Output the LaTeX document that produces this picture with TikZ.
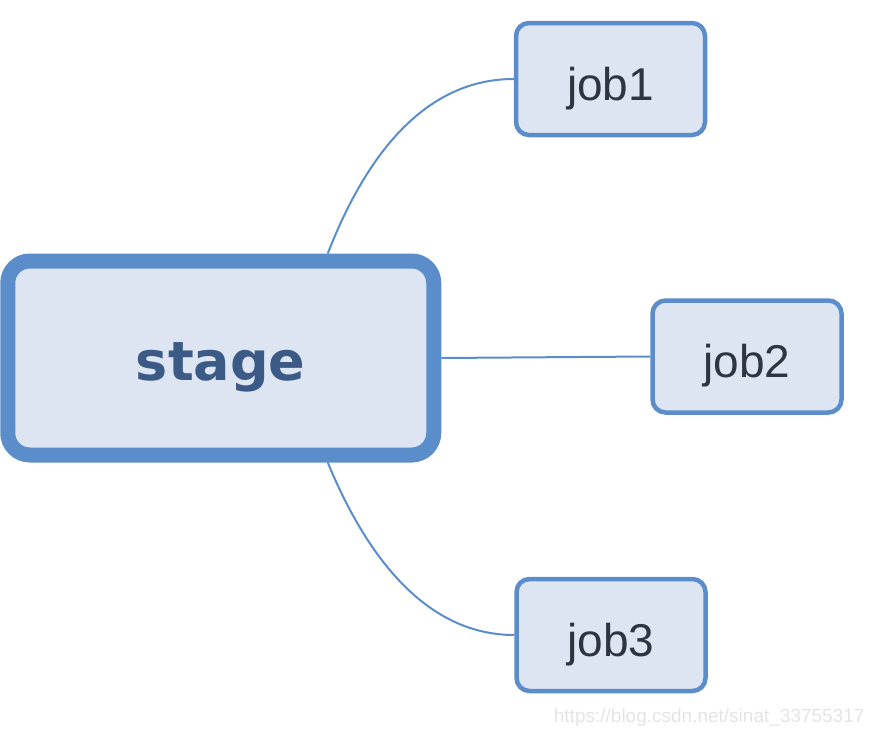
\documentclass[tikz,border=0pt]{standalone}
\usepackage{fontspec}
\setmainfont{Liberation Sans}
\newfontfamily\stagefont{DejaVu Sans}
\definecolor{bord}{HTML}{5B8DCB}
\definecolor{boxfill}{HTML}{DCE5F1}
\definecolor{stagetxt}{HTML}{3B5A86}
\definecolor{jobtxt}{HTML}{2E3540}
\definecolor{wm}{HTML}{E4E4E4}
\begin{document}
\begin{tikzpicture}[x=1pt,y=-1pt,
  stagebox/.style={draw=bord,fill=boxfill,line width=15pt,rounded corners=22pt,inner sep=0pt,
    minimum width=426pt,minimum height=194pt,text=stagetxt,text height=44pt,text depth=0pt,
    font=\stagefont\fontsize{54}{56}\selectfont\bfseries},
  jobbox/.style={draw=bord,fill=boxfill,line width=4.5pt,rounded corners=13pt,inner sep=0pt,
    minimum width=189pt,minimum height=112pt,text=jobtxt,text height=42pt,text depth=0pt,
    font=\fontsize{46}{48}\selectfont},
  conn/.style={draw=bord,line width=2pt}]
\useasboundingbox (0,0) rectangle (876,736);
\node[stagebox] (stage) at (220.75,358) {stage};
\node[jobbox] (job1) at (610.5,79) {job1};
\node[jobbox] (job2) at (747,356.5) {job2};
\node[jobbox] (job3) at (611,635) {job3};
\draw[conn] ([xshift=107pt]stage.north) .. controls (368,150) and (428,79) .. (job1.west);
\draw[conn] (stage.east) -- (job2.west);
\draw[conn] ([xshift=107pt]stage.south) .. controls (368,560) and (428,635) .. (job3.west);
\node[text=wm,font=\fontsize{19}{20}\selectfont,anchor=east] (wmark) at (868,718) {https://blog.csdn.net/sinat\_33755317};
\end{tikzpicture}
\end{document}
